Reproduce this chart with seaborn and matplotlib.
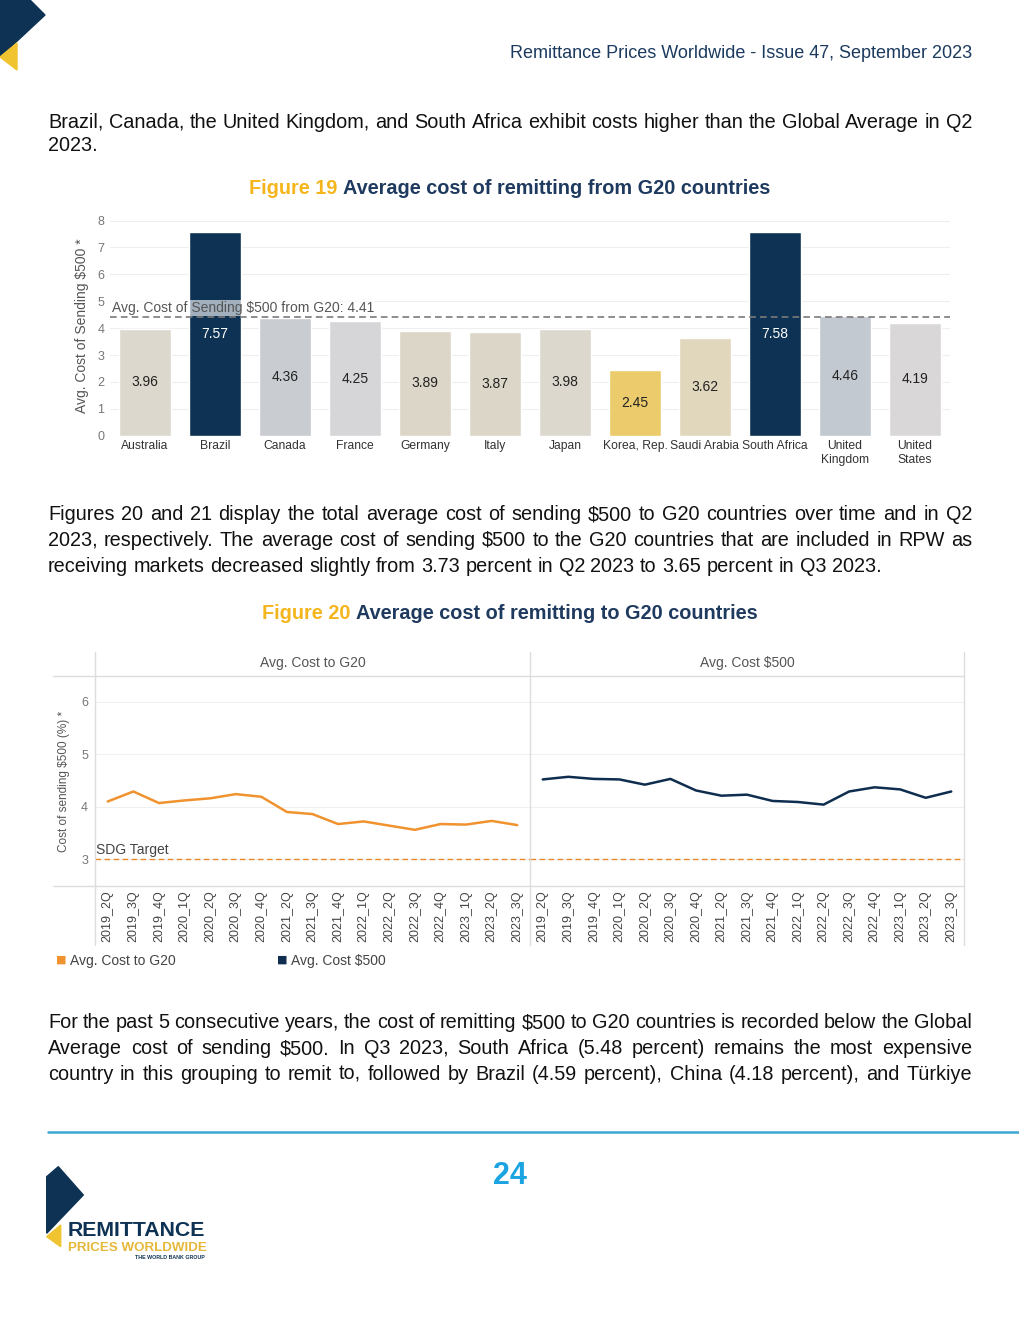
import seaborn as sns
import matplotlib.pyplot as plt
import numpy as np
import pandas as pd
from matplotlib.patches import Polygon
from matplotlib.lines import Line2D

# figure 19 data
countries = ['Australia', 'Brazil', 'Canada', 'France', 'Germany', 'Italy', 'Japan',
             'Korea, Rep.', 'Saudi Arabia', 'South Africa', 'United\nKingdom', 'United\nStates']
cost_from_g20 = [3.96, 7.57, 4.36, 4.25, 3.89, 3.87, 3.98, 2.45, 3.62, 7.58, 4.46, 4.19]
bar_colors = ['#DCD8CD', '#0E3253', '#C9CCD1', '#D6D6D9', '#DCD6C8', '#DCD6C8', '#DCD8CD',
              '#ECCB6C', '#E0D7BC', '#0E3253', '#C3C9D0', '#D9D7D8']
avg_from_g20 = 4.41

# figure 20 data
quarters = ['2019_2Q', '2019_3Q', '2019_4Q', '2020_1Q', '2020_2Q', '2020_3Q', '2020_4Q',
            '2021_2Q', '2021_3Q', '2021_4Q', '2022_1Q', '2022_2Q', '2022_3Q', '2022_4Q',
            '2023_1Q', '2023_2Q', '2023_3Q']
avg_cost_to_g20 = [4.10, 4.29, 4.07, 4.12, 4.16, 4.24, 4.19, 3.90, 3.86, 3.67, 3.72,
                   3.64, 3.56, 3.67, 3.66, 3.73, 3.65]
avg_cost_500 = [4.52, 4.57, 4.53, 4.52, 4.42, 4.53, 4.31, 4.21, 4.23, 4.11, 4.09,
                4.04, 4.29, 4.37, 4.33, 4.17, 4.29]
sdg_target = 3

W, H = 1020, 1320
sns.set_theme(style="white")
plt.rcParams['font.family'] = ['Liberation Sans', 'DejaVu Sans']

fig = plt.figure(figsize=(W / 100, H / 100), dpi=100)
rend = fig.canvas.get_renderer()


def fx(x):
    return x / W


def fy(y):
    return 1 - y / H


def rect(x0, y0, x1, y1):
    return [fx(x0), fy(y1), (x1 - x0) / W, (y1 - y0) / H]


def put_line(line, yb, justify=True, size=14.3, x0=48, x1=972):
    words = line.split(' ')
    objs = [fig.text(0, fy(yb), w, size=size, va='baseline', color='#111111') for w in words]
    widths = [o.get_window_extent(rend).width for o in objs]
    if justify and len(words) > 1:
        gap = (x1 - x0 - sum(widths)) / (len(words) - 1)
    else:
        gap = size * 100 / 72 * 0.278
    x = x0
    for o, w in zip(objs, widths):
        o.set_x(fx(x))
        x += w + gap


def two_tone(parts, yb, size=14.3, xc=510):
    objs = [fig.text(0, fy(yb), t, size=size, weight='bold', color=c, va='baseline') for t, c in parts]
    widths = [o.get_window_extent(rend).width for o in objs]
    gap = size * 100 / 72 * 0.278
    x = xc - (sum(widths) + gap * (len(objs) - 1)) / 2
    for o, w in zip(objs, widths):
        o.set_x(fx(x))
        x += w + gap


def px_poly(pts, color):
    fig.patches.append(Polygon([(fx(a), fy(b)) for a, b in pts], closed=True,
                               transform=fig.transFigure, color=color))


def px_line(x0, y0, x1, y1, color, lw=1.0):
    fig.lines.append(Line2D([fx(x0), fx(x1)], [fy(y0), fy(y1)], transform=fig.transFigure,
                            color=color, lw=lw))


gold = '#F5B51C'

# page decoration
px_poly([(0, 0), (30, 0), (45, 15), (0, 57)], '#0E3253')
px_poly([(17, 43), (17, 70), (0, 57)], '#F0C330')
fig.text(fx(972), fy(58), 'Remittance Prices Worldwide - Issue 47, September 2023', ha='right',
         va='baseline', size=13, color='#1B3A5E')

# paragraphs
put_line('Brazil, Canada, the United Kingdom, and South Africa exhibit costs higher than the Global Average in Q2', 128)
put_line('2023.', 151, justify=False)

put_line('Figures 20 and 21 display the total average cost of sending $500 to G20 countries over time and in Q2', 520)
put_line('2023, respectively. The average cost of sending $500 to the G20 countries that are included in RPW as', 546)
put_line('receiving markets decreased slightly from 3.73 percent in Q2 2023 to 3.65 percent in Q3 2023.', 572, justify=False)

put_line('For the past 5 consecutive years, the cost of remitting $500 to G20 countries is recorded below the Global', 1028)
put_line('Average cost of sending $500. In Q3 2023, South Africa (5.48 percent) remains the most expensive', 1054)
put_line('country in this grouping to remit to, followed by Brazil (4.59 percent), China (4.18 percent), and Türkiye', 1080)

two_tone([('Figure 19', gold), ('Average cost of remitting from G20 countries', '#1F3A5F')], 194)
two_tone([('Figure 20', gold), ('Average cost of remitting to G20 countries', '#1F3A5F')], 619)

# ---- figure 19: bars ----
ax1 = fig.add_axes(rect(110, 215.2, 950, 435.7))
sns.barplot(x=countries, y=cost_from_g20, hue=countries, palette=bar_colors, width=0.74,
            legend=False, saturation=1, ax=ax1)
ax1.set_xlim(-0.5, len(countries) - 0.5)
ax1.set_ylim(0, 8.2)
ax1.set_yticks(range(0, 9))
ax1.grid(axis='y', color='#EFEFEF', lw=0.8)
ax1.set_axisbelow(True)
for s in ax1.spines.values():
    s.set_visible(False)
ax1.tick_params(axis='y', labelsize=9, labelcolor='#777777', length=0, pad=4)
ax1.tick_params(axis='x', labelsize=8.7, labelcolor='#333333', length=0, pad=3)
ax1.set_ylabel('Avg. Cost of Sending $500 *', size=10, color='#555555', labelpad=6)
for i, v in enumerate(cost_from_g20):
    col = 'white' if bar_colors[i] == '#0E3253' else '#222222'
    ax1.text(i, v / 2, f'{v:.2f}', ha='center', va='center', size=10, color=col, zorder=5)
ax1.axhline(avg_from_g20, ls='--', color='#7A7A7A', lw=1.2, dashes=(4, 2.5), zorder=4)
ax1.text(-0.47, avg_from_g20 + 0.07, f'Avg. Cost of Sending $500 from G20: {avg_from_g20}',
         ha='left', va='bottom', size=10, color='#555555', zorder=6,
         bbox=dict(facecolor='white', edgecolor='none', alpha=0.62, pad=0.6))

# ---- figure 20: lines ----
axl = fig.add_axes(rect(95, 676, 530, 886))
axr = fig.add_axes(rect(530, 676, 964, 886))
sns.lineplot(x=quarters, y=avg_cost_to_g20, color='#F0922E', lw=1.8, sort=False, ax=axl)
sns.lineplot(x=quarters, y=avg_cost_500, color='#0F2D4F', lw=1.8, sort=False, ax=axr)
for ax, title in [(axl, 'Avg. Cost to G20'), (axr, 'Avg. Cost $500')]:
    ax.set_xlim(-0.5, len(quarters) - 0.5)
    ax.set_ylim(2.49, 6.49)
    ax.set_yticks([3, 4, 5, 6])
    ax.grid(axis='y', color='#F0F0F0', lw=0.8)
    ax.set_axisbelow(True)
    for s in ax.spines.values():
        s.set_visible(False)
    ax.axhline(sdg_target, ls='--', color='#E8892B', lw=1.0, dashes=(4, 2.5))
    ax.tick_params(axis='x', labelrotation=90, labelsize=9, labelcolor='#444444', length=0, pad=3)
    ax.tick_params(axis='y', labelsize=9, labelcolor='#777777', length=0, pad=5)
    ax.set_xlabel('')
    ax.set_ylabel('')
    pos = ax.get_position()
    fig.text(pos.x0 + pos.width / 2, fy(663), title, ha='center', va='center', size=10,
             color='#555555')
axr.set_yticklabels([])
axl.set_ylabel('Cost of sending $500 (%) *', size=8.5, color='#555555', labelpad=8)
axl.text(-0.45, sdg_target + 0.04, 'SDG Target', ha='left', va='bottom', size=10, color='#444444')

# frame of figure 20
frame = '#DDDDDD'
px_line(53, 676, 964, 676, frame)
px_line(53, 886, 964, 886, frame)
for xv in [95, 530, 964]:
    px_line(xv, 652, xv, 945, frame)

# legend of figure 20
fig.text(fx(56), fy(960), '\u25A0', ha='left', va='center', size=8, color='#F0922E',
         family=['DejaVu Sans'])
fig.text(fx(70), fy(961), 'Avg. Cost to G20', ha='left', va='center', size=10, color='#444444')
fig.text(fx(277), fy(960), '\u25A0', ha='left', va='center', size=8, color='#0F2D4F',
         family=['DejaVu Sans'])
fig.text(fx(291), fy(961), 'Avg. Cost $500', ha='left', va='center', size=10, color='#444444')

# footer
px_line(48, 1132, 1020, 1132, '#3CA6D3', lw=1.8)
fig.text(fx(510), fy(1176), '24', ha='center', va='center', size=22, weight='bold', color='#1CA4E2')
px_poly([(46.7, 1176.7), (58.3, 1166.7), (83.3, 1195), (46.7, 1233.3)], '#0E3253')
px_poly([(46.7, 1236.7), (60.7, 1225), (60.7, 1246.7)], '#F0C330')
fig.text(fx(68), fy(1236), 'REMITTANCE', ha='left', va='baseline', size=15.3, weight='bold',
         color='#0E3253')
fig.text(fx(68), fy(1251), 'PRICES WORLDWIDE', ha='left', va='baseline', size=9.6, weight='bold',
         color='#E5B83A')
fig.text(fx(205), fy(1259), 'THE WORLD BANK GROUP', ha='right', va='baseline', size=3.8,
         weight='bold', color='#0E3253')

fig.savefig('out.png', dpi=100)
